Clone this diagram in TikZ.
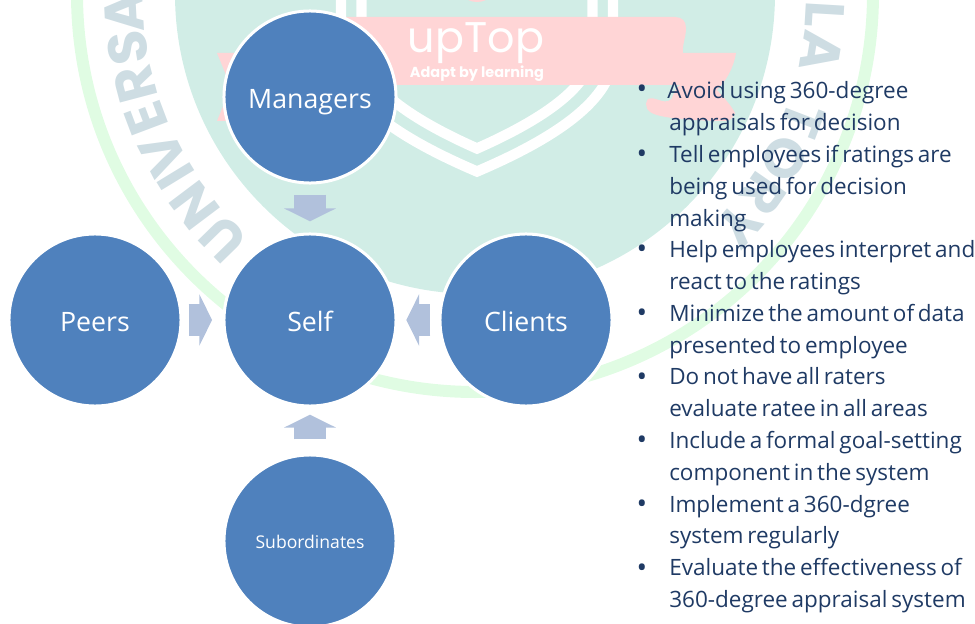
\documentclass[tikz,border=0pt]{standalone}
\usepackage{fontspec}
\usetikzlibrary{arrows.meta}
\setmainfont{Open Sans}
\newfontfamily\tipfont[WordSpace=0.65]{Open Sans}
\newfontfamily\logofont{Poppins}
\definecolor{shieldteal}{HTML}{D1EDE6}
\definecolor{ringgreen}{HTML}{E0FCE3}
\definecolor{ribbonpink}{HTML}{FFD5D6}
\definecolor{markgray}{HTML}{CEDDE3}
\definecolor{circleblue}{HTML}{4F81BD}
\definecolor{pushblue}{HTML}{B1C1DC}
\definecolor{tipnavy}{HTML}{1F3A64}
\tikzset{
  rater/.style={circle, fill=circleblue, draw=white, line width=0.075cm, minimum size=4.3cm, inner sep=0, text=white, text height=16pt, text depth=0pt, font=\fontsize{19}{22}\selectfont},
  push/.style={pushblue, line width=0.82cm, -{Triangle[width=1.28cm,length=0.32cm]}},
  markletter/.style={text=markgray, inner sep=0, font=\logofont\bfseries\fontsize{39}{39}\selectfont},
  stripe/.style={white, line width=0.26cm, miter limit=10}
}
\begin{document}
\begin{tikzpicture}[x=0.025cm, y=-0.025cm]
\useasboundingbox (0,0) rectangle (975,624);
\clip (0,0) rectangle (975,624);
\coordinate (hub) at (475,-6);
\fill[shieldteal] (hub) circle (300);
\draw[ringgreen, line width=0.3cm] (hub) circle (398);

% shield
\draw[stripe] (361.5,-5) -- (361.5,50) .. controls (361.5,90) and (424,125) .. (477,148.5) .. controls (530,125) and (592.5,90) .. (592.5,50) -- (592.5,-5);
\draw[stripe] (341,-5) -- (341,55) .. controls (341,105) and (415,145) .. (477,171.5) .. controls (539,145) and (613,105) .. (613,55) -- (613,-5);

% ribbon
\fill[ribbonpink] (477,-18) circle (20);
\fill[ribbonpink] (346,17) -- (675,17) .. controls (682,17) and (686,21) .. (686,28) .. controls (686,38) and (682,44) .. (683,53) -- (736,53)
  .. controls (733,70) and (725,82) .. (717,90) .. controls (724,98) and (731,105) .. (735,113) .. controls (733,119) and (729,121) .. (725,121)
  .. controls (700,121) and (670,119) .. (657,115) .. controls (648,113) and (643,106) .. (648,99) .. controls (655,96) and (660,103) .. (668,101)
  .. controls (675,99) and (672,90) .. (680,85) -- (260,85) -- (260,121) -- (217,121) -- (231,87) -- (217,53) -- (346,53) -- cycle;
\node[text=white, inner sep=0, font=\logofont\fontsize{30.5}{31}\selectfont] (brand) at (476,43) {upTop};
\node[text=white, inner sep=0, font=\logofont\bfseries\fontsize{10.3}{11}\selectfont] (motto) at (477,74) {Adapt by learning};

% ring lettering
\foreach \a/\c in {135.7/U,143/N,148.6/I,152.8/V,159.3/E,165.2/R,171.1/S,177/A,3.4/L,9.4/A,21/T,28/O,34.7/R,41.2/Y}
  \node[markletter, rotate=-\a-90] (letter\a) at ([shift={(\a:351)}]hub) {\c};

\node[rater] (managers) at (310,97) {Managers};
\node[rater] (self) at (310,320) {Self};
\node[rater] (peers) at (95,320) {Peers};
\node[rater] (clients) at (526,320) {Clients};
\node[rater, text height=10.5pt, font=\fontsize{12.5}{14}\selectfont] (subordinates) at (310,541) {Subordinates};

\draw[push, shorten <=0.25cm, shorten >=0.28cm] (managers) -- (self);
\draw[push, shorten <=0.15cm, shorten >=0.26cm] (peers) -- (self);
\draw[push, shorten <=0.2cm, shorten >=0.22cm] (clients) -- (self);
\draw[push, shorten <=0.35cm, shorten >=0.18cm] (subordinates) -- (self);

\node[anchor=north west, inner sep=0, text=tipnavy, align=left, font=\tipfont\fontsize{16}{22.6}\selectfont] (tips) at (669,81.5) {\hspace*{-1.4pt}Avoid using 360-degree\\
appraisals for decision\\
Tell employees if ratings are\\
being used for decision\\
making\\
Help employees interpret and\\
react to the ratings\\
Minimize the amount of data\\
presented to employee\\
Do not have all raters\\
evaluate ratee in all areas\\
Include a formal goal-setting\\
component in the system\\
Implement a 360-dgree\\
system regularly\\
Evaluate the effectiveness of\\
360-degree appraisal system};
\foreach \y in {92,157,252,316,380,443,507,571}
  \node[text=tipnavy, inner sep=0, font=\fontsize{20}{20}\selectfont] (dot\y) at (642,\y) {\textbullet};
\end{tikzpicture}
\end{document}
